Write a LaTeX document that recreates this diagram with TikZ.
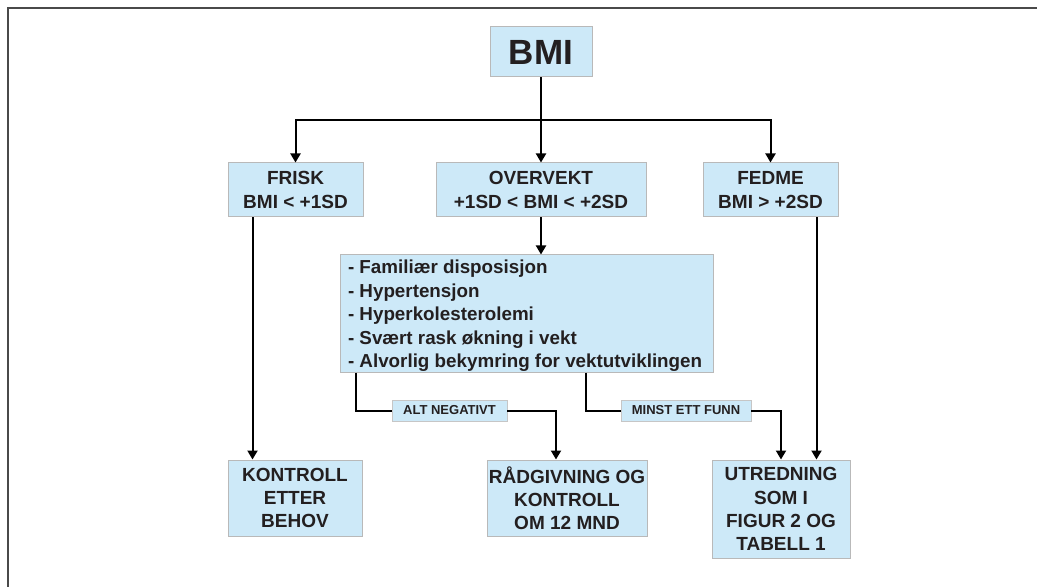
\documentclass[tikz,border=0pt]{standalone}
\usepackage{fontspec}
\setmainfont{Liberation Sans}
\usepackage{tikz}
\usetikzlibrary{arrows.meta, positioning}

\definecolor{boxblue}{HTML}{CDE9F8}
\definecolor{framegray}{HTML}{4A4A4A}
\definecolor{inkgray}{HTML}{231F20}

\tikzset{
  box/.style={fill=boxblue, draw=gray!55, line width=0.5pt, align=center, inner sep=0pt,
    text=inkgray, font=\bfseries\fontsize{9.5}{11.6}\selectfont},
  tag/.style={fill=boxblue, draw=gray!45, line width=0.4pt, inner sep=0pt, text=inkgray,
    minimum height=10.5pt, font=\bfseries\fontsize{6.5}{7}\selectfont},
  link/.style={line width=1pt},
  arrow/.style={link, -{Triangle[width=5pt, length=4.5pt]}},
}

\begin{document}
\begin{tikzpicture}[x=0.5pt, y=-0.5pt]
  \useasboundingbox (0,0) rectangle (1037,587);

  % Frame
  \draw[framegray, line width=1pt] (8,587) -- (8,8) -- (1037,8);

  % Top level
  \node[box, minimum width=51pt, minimum height=25pt, font=\bfseries\fontsize{17.5}{20}\selectfont] (bmi) at (541,52) {BMI};

  % Categories
  \node[box, minimum width=67.5pt, minimum height=27pt] (frisk) at (295.5,190) {FRISK\\BMI < +1SD};
  \node[box, minimum width=105pt, minimum height=27pt] (overvekt) at (541,190) {OVERVEKT\\+1SD < BMI < +2SD};
  \node[box, minimum width=67.5pt, minimum height=27pt] (fedme) at (770.5,190) {FEDME\\BMI > +2SD};

  % Risk factors
  \node[box, inner xsep=4pt, minimum height=58.5pt, font=\bfseries\fontsize{9.4}{11.75}\selectfont] (risk) at (526.5,313.5)
    {\parbox[c][58.5pt][b]{178.5pt}{\raggedright
      - Familiær disposisjon\\- Hypertensjon\\- Hyperkolesterolemi\\- Svært rask økning i vekt\\- Alvorlig bekymring for vektutviklingen\par\vspace{0.2pt}}};

  % Outcomes
  \node[box, minimum width=67pt, minimum height=38pt] (kontroll) at (295,498) {KONTROLL\\ETTER\\BEHOV};
  \node[box, minimum width=80pt, minimum height=38pt] (raad) at (567,498) {RÅDGIVNING OG\\KONTROLL\\OM 12 MND};
  \node[box, minimum width=69pt, minimum height=49pt] (utred) at (781,509) {UTREDNING\\SOM I\\FIGUR 2 OG\\TABELL 1};

  % Branch labels
  \node[tag, minimum width=57.5pt] (alt) at (449.5,410.5) {ALT NEGATIVT};
  \node[tag, minimum width=65pt] (minst) at (686,410.5) {MINST ETT FUNN};

  % Connectors
  \coordinate (split) at (541,120);
  \draw[link] (bmi.south) -- (split);
  \draw[arrow] (split) -| (frisk.north);
  \draw[arrow] (split) -| (fedme.north);
  \draw[arrow] (split) -- (overvekt.north);
  \draw[arrow] (overvekt.south) -- (risk.north -| overvekt.south);
  \draw[arrow] ([xshift=12.5pt]frisk.south west) -- ([xshift=12.5pt]frisk.south west |- kontroll.north);
  \draw[link] ([xshift=8pt]risk.south west) |- (alt.west);
  \draw[arrow] (alt.east) -| ([xshift=-5.5pt]raad.north);
  \draw[link] ([xshift=29.75pt]risk.south) |- (minst.west);
  \draw[arrow] (minst.east) -| (utred.north);
  \draw[arrow] ([xshift=23pt]fedme.south) -- ([xshift=23pt]fedme.south |- utred.north);
\end{tikzpicture}
\end{document}
